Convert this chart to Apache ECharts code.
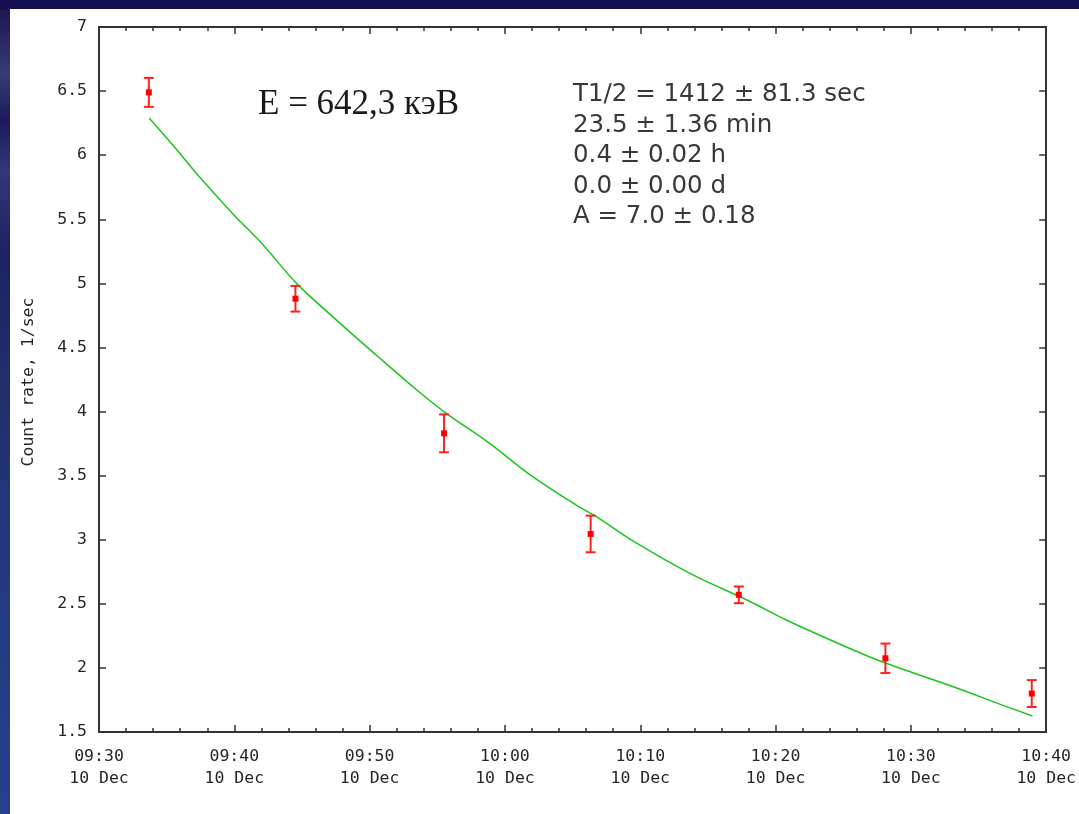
<!DOCTYPE html>
<html>
<head>
<meta charset="utf-8">
<script src="https://cdn.jsdelivr.net/npm/echarts@6/dist/echarts.min.js"></script>
<style>
  html, body { margin: 0; padding: 0; width: 1079px; height: 814px; overflow: hidden; background: #120e4f; }
  #strip { position: absolute; left: 0; top: 9px; width: 10px; height: 805px;
    background: linear-gradient(to bottom, #1b1754 0%, #3a3a78 8%, #1c1a5a 14%, #34357a 20%, #1e2262 30%, #22306f 50%, #243a82 75%, #27408c 100%); }
  #chart { position: absolute; left: 10px; top: 9px; width: 1069px; height: 805px; background: #ffffff; }
</style>
</head>
<body>
<div id="strip"></div>
<div id="chart"></div>
<script>
// ---- Data ----
const pointTimes  = ['09:33:41', '09:44:31', '09:55:30', '10:06:20', '10:17:17', '10:28:07', '10:38:56'];
const pointRates  = [6.49, 4.88, 3.83, 3.045, 2.57, 2.075, 1.80];
const pointErrors = [0.113, 0.10, 0.148, 0.143, 0.065, 0.115, 0.105];

const fitTimes = ['09:33:43', '09:35:29', '09:37:28', '09:39:55', '09:42:08', '09:44:36', '09:47:48',
                  '09:50:59', '09:53:28', '09:55:40', '09:58:52', '10:01:49', '10:05:16', '10:06:45',
                  '10:09:42', '10:13:38', '10:18:04', '10:20:47', '10:25:42', '10:28:10', '10:33:05',
                  '10:37:01', '10:38:59'];
const fitRates = [6.288, 6.075, 5.825, 5.540, 5.300, 5.000, 4.690,
                  4.395, 4.170, 3.985, 3.752, 3.510, 3.270, 3.180,
                  2.975, 2.740, 2.520, 2.374, 2.142, 2.036, 1.855,
                  1.700, 1.625];

const xTickMinutes = [0, 10, 20, 30, 40, 50, 60, 70];
const xTickLabels = ['09:30\n10 Dec', '09:40\n10 Dec', '09:50\n10 Dec', '10:00\n10 Dec',
                     '10:10\n10 Dec', '10:20\n10 Dec', '10:30\n10 Dec', '10:40\n10 Dec'];
const yTicks = ['1.5', '2', '2.5', '3', '3.5', '4', '4.5', '5', '5.5', '6', '6.5', '7'];

const energyLabel = 'E = 642,3 кэВ';
const fitTextLines = ['T1/2 = 1412 \u00b1 81.3 sec', '23.5 \u00b1 1.36 min', '0.4 \u00b1 0.02 h', '0.0 \u00b1 0.00 d', 'A = 7.0 \u00b1 0.18'];
const yAxisTitle = 'Count rate, 1/sec';

// minutes since 09:30
function toMin(s) {
  const p = s.split(':').map(Number);
  return (p[0] * 60 + p[1] + (p[2] || 0) / 60) - (9 * 60 + 30);
}

const pointData = pointTimes.map((t, i) => [toMin(t), pointRates[i], pointErrors[i]]);
const fitData = fitTimes.map((t, i) => [toMin(t), fitRates[i]]);

const axisColor = '#333333';
const labelFont = 'DejaVu Sans Mono';
const labelColor = '#262626';

function xLabel(v) {
  const i = xTickMinutes.indexOf(Math.round(v));
  return i >= 0 ? xTickLabels[i] : '';
}

const chart = echarts.init(document.getElementById('chart'), null, { renderer: 'canvas' });

const commonX = {
  type: 'value', min: 0, max: 70, interval: 10, splitNumber: 5,
  axisLine: { show: true, onZero: false, lineStyle: { color: axisColor, width: 2 } },
  axisTick: { show: true, inside: true, length: 7, lineStyle: { color: axisColor, width: 1.5 } },
  minorTick: { show: true, splitNumber: 5, length: 4, lineStyle: { color: axisColor, width: 1.5 } },
  splitLine: { show: false }
};
const commonY = {
  type: 'value', min: 1.5, max: 7, interval: 0.5,
  axisLine: { show: true, onZero: false, lineStyle: { color: axisColor, width: 2 } },
  axisTick: { show: true, inside: true, length: 7, lineStyle: { color: axisColor, width: 1.5 } },
  splitLine: { show: false }
};

chart.setOption({
  animation: false,
  backgroundColor: '#ffffff',
  grid: { left: 89, top: 18, right: 32, bottom: 82, containLabel: false },
  xAxis: [
    Object.assign({}, commonX, {
      position: 'bottom',
      axisLabel: { show: true, margin: 14, fontFamily: labelFont, fontSize: 16.5, lineHeight: 22,
                   color: labelColor, formatter: xLabel, showMinLabel: true, showMaxLabel: true }
    }),
    Object.assign({}, commonX, { position: 'top', axisLabel: { show: false } })
  ],
  yAxis: [
    Object.assign({}, commonY, {
      position: 'left',
      axisLabel: { show: true, margin: 12, fontFamily: labelFont, fontSize: 16.5, color: labelColor,
                   formatter: v => yTicks[Math.round((v - 1.5) / 0.5)] }
    }),
    Object.assign({}, commonY, { position: 'right', axisLabel: { show: false } })
  ],
  series: [
    {
      type: 'line', data: fitData, xAxisIndex: 0, yAxisIndex: 0,
      showSymbol: false, symbol: 'none', smooth: 0.35,
      lineStyle: { color: '#1cc41c', width: 1.5 }, z: 2
    },
    {
      type: 'custom', data: pointData, xAxisIndex: 0, yAxisIndex: 0,
      encode: { x: 0, y: 1 }, clip: false, z: 3,
      renderItem: function (params, api) {
        const t = api.value(0), v = api.value(1), e = api.value(2);
        const top = api.coord([t, v + e]);
        const bot = api.coord([t, v - e]);
        const mid = api.coord([t, v]);
        const cap = 5;
        const st = { stroke: '#ff2020', lineWidth: 2 };
        return {
          type: 'group',
          children: [
            { type: 'line', shape: { x1: top[0], y1: top[1], x2: bot[0], y2: bot[1] }, style: st },
            { type: 'line', shape: { x1: top[0] - cap, y1: top[1], x2: top[0] + cap, y2: top[1] }, style: st },
            { type: 'line', shape: { x1: bot[0] - cap, y1: bot[1], x2: bot[0] + cap, y2: bot[1] }, style: st },
            { type: 'rect', shape: { x: mid[0] - 3, y: mid[1] - 3, width: 6, height: 6 }, style: { fill: '#ff0000' } }
          ]
        };
      }
    }
  ],
  graphic: [
    {
      type: 'text', x: 248, y: 96,
      style: { text: energyLabel, font: '35px "Liberation Serif", "Times New Roman", serif', fill: '#1a1a1a',
               textAlign: 'left', textVerticalAlign: 'middle' }
    },
    {
      type: 'text', rotation: Math.PI / 2, x: 19, y: 373,
      style: { text: yAxisTitle, font: '16.5px "DejaVu Sans Mono", monospace', fill: labelColor,
               textAlign: 'center', textVerticalAlign: 'middle' }
    }
  ].concat(fitTextLines.map((s, i) => ({
    type: 'text', x: 563, y: 86 + i * 30.5,
    style: { text: s, font: '24.5px "DejaVu Sans", sans-serif', fill: '#383838',
             textAlign: 'left', textVerticalAlign: 'middle' }
  })))
});
</script>
</body>
</html>
